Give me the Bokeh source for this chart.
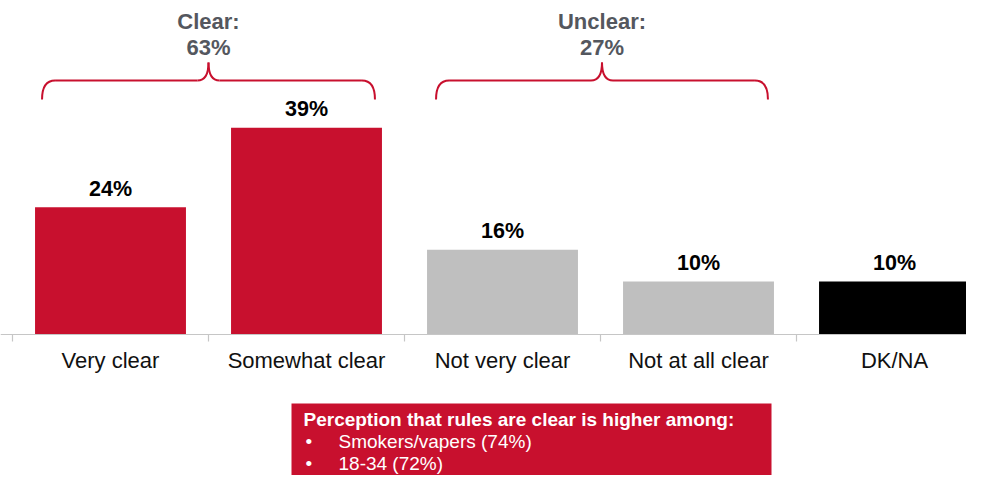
from bokeh.plotting import figure
from bokeh.models import Range1d, ColumnDataSource
from bokeh.core.properties import value
from bokeh.embed import file_html
from bokeh.resources import INLINE

# ---- data ----
categories = ["Very clear", "Somewhat clear", "Not very clear", "Not at all clear", "DK/NA"]
values = [24, 39, 16, 10, 10]
bar_colors = ["#c8102e", "#c8102e", "#bfbfbf", "#bfbfbf", "#000000"]
group_names = ["Clear:", "Unclear:"]
group_totals = [63, 27]
group_members = [[0, 1], [2, 3]]
note_title = "Perception that rules are clear is higher among:"
note_items = ["Smokers/vapers (74%)", "18-34 (72%)"]

FONT = value("Liberation Sans")
RED = "#c8102e"

# pixel scale helpers (layout only)
PXX = 1 / 196.0   # data units per px horizontally
PXY = 1 / 5.3     # data units per px vertically
X0 = 12           # px of category boundary 0
Y0 = 334          # px of baseline

W, H = 966, 475
p = figure(width=W, height=H, output_backend="svg", toolbar_location=None,
           x_range=Range1d(-X0 * PXX, (W - X0) * PXX),
           y_range=Range1d(-(H - Y0) * PXY, Y0 * PXY),
           x_axis_location=None, y_axis_location=None,
           min_border=0, min_border_left=0, min_border_right=0,
           min_border_top=0, min_border_bottom=0)
p.outline_line_color = None
p.xgrid.visible = False
p.ygrid.visible = False
p.background_fill_color = "white"
p.border_fill_color = "white"

n = len(categories)
xc = [i + 0.5 for i in range(n)]
src = ColumnDataSource(dict(x=xc, top=values, color=bar_colors, cat=categories,
                            lab=[f"{v}%" for v in values],
                            ly=[v + 18.5 * PXY for v in values]))

p.vbar(x="x", top="top", bottom=0, width=0.77, color="color", source=src, line_color=None)

# baseline and ticks
p.segment(x0=[-X0 * PXX], y0=[0], x1=[(W - X0) * PXX], y1=[0], line_color="#c6c6c6", line_width=1.2)
p.segment(x0=list(range(n + 1)), y0=[0] * (n + 1), x1=list(range(n + 1)),
          y1=[-7 * PXY] * (n + 1), line_color="#c6c6c6", line_width=1.2)

# value labels
p.text(x="x", y="ly", text="lab", source=src, text_font=FONT, text_font_size=value("21.5px"),
       text_font_style="bold", text_align="center", text_baseline="middle", text_color="#000000")

# category labels
p.text(x="x", y=-26 * PXY, text="cat", source=src, text_font=FONT,
       text_font_size=value("22px"), text_align="center", text_baseline="middle",
       text_color="#111111")

# braces and group totals
y_tip = 235 * PXY
y_h = 254 * PXY
y_peak = 272 * PXY
r_end = 13 * PXX
r_mid = 11 * PXX
inset = [(7, 7), (9, 6)]
for gi, members in enumerate(group_members):
    left = members[0] + (1 - 0.77) / 2 + inset[gi][0] * PXX
    right = members[-1] + 1 - (1 - 0.77) / 2 - inset[gi][1] * PXX
    mid = (left + right) / 2
    p.quadratic(x0=[left, right], y0=[y_tip, y_tip], x1=[left + r_end, right - r_end], y1=[y_h, y_h],
                cx=[left, right], cy=[y_h, y_h], line_color=RED, line_width=2)
    p.segment(x0=[left + r_end, mid + r_mid], y0=[y_h, y_h], x1=[mid - r_mid, right - r_end],
              y1=[y_h, y_h], line_color=RED, line_width=2)
    p.quadratic(x0=[mid - r_mid, mid + r_mid], y0=[y_h, y_h], x1=[mid, mid], y1=[y_peak, y_peak],
                cx=[mid, mid], cy=[y_h, y_h], line_color=RED, line_width=2)
    p.text(x=[mid, mid], y=[313 * PXY, 287 * PXY],
           text=[group_names[gi], f"{group_totals[gi]}%"], text_font=FONT,
           text_font_size=value("22px"), text_font_style="bold", text_align="center",
           text_baseline="middle", text_color="#54575e")

# note box
bx0, bx1 = 279 * PXX, 759 * PXX
p.quad(left=[bx0], right=[bx1], top=[-69 * PXY], bottom=[-160 * PXY], fill_color=RED, line_color=None)
p.text(x=[291 * PXX], y=[-85 * PXY], text=[note_title], text_font=FONT,
       text_font_size=value("19px"), text_font_style="bold", text_align="left",
       text_baseline="middle", text_color="white")
item_y = [-107 * PXY, -129 * PXY]
p.text(x=[293 * PXX] * len(note_items), y=item_y, text=["•"] * len(note_items), text_font=FONT,
       text_font_size=value("19px"), text_align="left", text_baseline="middle", text_color="white")
p.text(x=[326 * PXX] * len(note_items), y=item_y, text=note_items, text_font=FONT,
       text_font_size=value("19px"), text_align="left", text_baseline="middle", text_color="white")

open("out.html", "w").write(file_html(p, INLINE))
